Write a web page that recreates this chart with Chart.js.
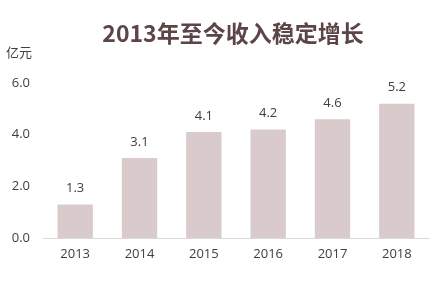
<!DOCTYPE html>
<html>
<head>
<meta charset="utf-8">
<script src="https://cdn.jsdelivr.net/npm/chart.js@4.4.1/dist/chart.umd.min.js"></script>
<style>
  html, body { margin: 0; padding: 0; background: #fff; }
  #wrap { width: 447px; height: 292px; }
</style>
</head>
<body>
<div id="wrap"><canvas id="incomeChart" width="447" height="292"></canvas></div>
<script>
// data
const years = ['2013', '2014', '2015', '2016', '2017', '2018'];
const income = [1.3, 3.1, 4.1, 4.2, 4.6, 5.2];
const yTicks = [0, 2, 4, 6];

const titleText = '2013年至今收入稳定增长';
const unitText = '亿元';
const cjkFont = '"Noto Sans CJK SC", "Microsoft YaHei", sans-serif';
const numFont = '"Open Sans", "Noto Sans CJK SC", sans-serif';

// title, unit and the value above every bar
const labelPlugin = {
    id: 'labelPlugin',
    afterDatasetsDraw(chart) {
        const ctx = chart.ctx;
        const meta = chart.getDatasetMeta(0);
        ctx.save();
        ctx.fillStyle = '#404040';
        ctx.font = '13px ' + numFont;
        ctx.textAlign = 'center';
        ctx.textBaseline = 'middle';
        meta.data.forEach((bar, i) => {
            ctx.fillText(income[i].toFixed(1), bar.x, bar.y - 16);
        });

        // chart title
        ctx.fillStyle = '#5b4547';
        ctx.font = 'bold 23px ' + cjkFont;
        ctx.fillText(titleText, chart.chartArea.left + 190, 33);

        // unit
        ctx.fillStyle = '#404040';
        ctx.font = '13px ' + cjkFont;
        ctx.textAlign = 'left';
        ctx.fillText(unitText, 6, 52);
        ctx.restore();
    }
};

const ctx = document.getElementById('incomeChart').getContext('2d');
const incomeChart = new Chart(ctx, {
    type: 'bar',
    data: {
        labels: years,
        datasets: [{
            data: income,
            backgroundColor: '#d9cbcb',
            borderWidth: 0,
            barPercentage: 0.55,
            categoryPercentage: 1
        }]
    },
    options: {
        responsive: false,
        animation: false,
        layout: {
            padding: { top: 83, left: 0, right: 18, bottom: 0 }
        },
        scales: {
            x: {
                grid: { display: false, drawTicks: false },
                border: { display: true, color: '#d9d9d9', width: 1 },
                ticks: {
                    color: '#404040',
                    font: { size: 13, family: numFont },
                    padding: 8
                },
                afterFit(scale) { scale.height = 54; }
            },
            y: {
                min: 0,
                max: 6,
                grid: { display: false, drawTicks: false },
                border: { display: false },
                afterBuildTicks(scale) {
                    scale.ticks = yTicks.map(v => ({ value: v }));
                },
                ticks: {
                    color: '#404040',
                    font: { size: 13, family: numFont },
                    padding: 13,
                    callback: v => Number(v).toFixed(1)
                },
                afterFit(scale) { scale.width = 43; }
            }
        },
        plugins: {
            legend: { display: false },
            title: { display: false },
            tooltip: { enabled: false }
        }
    },
    plugins: [labelPlugin]
});
</script>
</body>
</html>
